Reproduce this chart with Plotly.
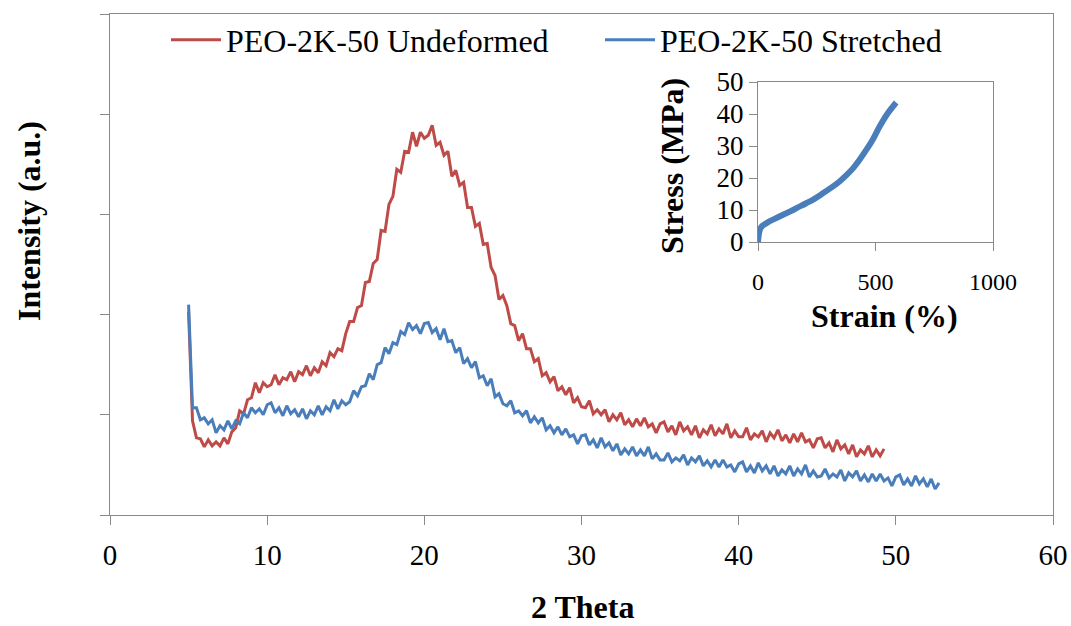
import numpy as np
import plotly.graph_objects as go

# ---------------- data ----------------
two_theta_start = 5.0
two_theta_step = 0.25

undeformed = [
    2.03, 0.94, 0.77, 0.76, 0.68, 0.75, 0.69, 0.73, 0.69, 0.77, 0.71, 0.83, 0.87, 1.04, 1.01, 1.15, 1.17, 1.32, 1.22, 1.32, 1.28,
    1.30, 1.40, 1.30, 1.37, 1.35, 1.43, 1.33, 1.43, 1.40, 1.49, 1.39, 1.47, 1.42, 1.53, 1.49, 1.62, 1.58, 1.66, 1.64, 1.81,
    1.93, 1.93, 2.07, 2.09, 2.32, 2.33, 2.51, 2.55, 2.84, 2.83, 3.10, 3.18, 3.45, 3.42, 3.63, 3.62, 3.82, 3.68, 3.82, 3.76,
    3.79, 3.89, 3.69, 3.72, 3.59, 3.63, 3.38, 3.44, 3.29, 3.32, 3.07, 3.07, 2.88, 2.91, 2.70, 2.71, 2.47, 2.39, 2.15, 2.19,
    2.09, 1.91, 1.89, 1.74, 1.81, 1.66, 1.66, 1.53, 1.56, 1.39, 1.42, 1.33, 1.38, 1.24, 1.28, 1.20, 1.27, 1.12, 1.17, 1.08,
    1.07, 1.14, 1.01, 1.05, 1.00, 1.05, 0.93, 1.00, 0.95, 1.02, 0.90, 0.95, 0.88, 0.96, 0.89, 0.97, 0.88, 0.91, 0.82, 0.91,
    0.93, 0.83, 0.89, 0.80, 0.93, 0.84, 0.88, 0.80, 0.89, 0.77, 0.85, 0.81, 0.90, 0.79, 0.86, 0.81, 0.91, 0.77, 0.84, 0.78,
    0.78, 0.87, 0.75, 0.81, 0.78, 0.84, 0.73, 0.82, 0.77, 0.85, 0.74, 0.80, 0.72, 0.81, 0.73, 0.82, 0.73, 0.75, 0.67, 0.76,
    0.77, 0.67, 0.72, 0.63, 0.75, 0.66, 0.70, 0.61, 0.70, 0.58, 0.65, 0.61, 0.69, 0.58, 0.65, 0.59, 0.66,
]

stretched = [
    2.10, 1.07, 1.07, 0.95, 0.97, 0.91, 0.95, 0.82, 0.89, 0.85, 0.94, 0.86, 0.94, 0.91, 1.02, 0.97, 1.07, 1.02, 1.06, 1.00, 1.10,
    1.12, 1.02, 1.07, 0.99, 1.09, 1.01, 1.05, 0.98, 1.06, 0.96, 1.04, 1.00, 1.09, 1.00, 1.08, 1.04, 1.15, 1.06, 1.14, 1.10,
    1.13, 1.24, 1.19, 1.28, 1.29, 1.41, 1.35, 1.50, 1.52, 1.67, 1.61, 1.72, 1.70, 1.83, 1.80, 1.92, 1.85, 1.89, 1.81, 1.91,
    1.92, 1.82, 1.86, 1.75, 1.86, 1.73, 1.74, 1.62, 1.67, 1.51, 1.56, 1.47, 1.53, 1.37, 1.39, 1.29, 1.36, 1.18, 1.21, 1.11,
    1.09, 1.14, 1.02, 1.04, 0.99, 1.04, 0.92, 0.98, 0.92, 0.97, 0.85, 0.89, 0.82, 0.88, 0.80, 0.86, 0.78, 0.80, 0.71, 0.79,
    0.80, 0.70, 0.75, 0.67, 0.77, 0.68, 0.72, 0.64, 0.71, 0.60, 0.66, 0.61, 0.68, 0.59, 0.65, 0.59, 0.68, 0.56, 0.61, 0.55,
    0.55, 0.62, 0.53, 0.57, 0.54, 0.60, 0.50, 0.57, 0.53, 0.59, 0.49, 0.54, 0.48, 0.55, 0.48, 0.55, 0.48, 0.50, 0.43, 0.51,
    0.53, 0.43, 0.49, 0.42, 0.52, 0.44, 0.49, 0.41, 0.49, 0.39, 0.45, 0.41, 0.49, 0.39, 0.46, 0.41, 0.50, 0.38, 0.44, 0.38,
    0.39, 0.46, 0.37, 0.41, 0.38, 0.45, 0.34, 0.42, 0.38, 0.44, 0.34, 0.40, 0.33, 0.41, 0.34, 0.41, 0.34, 0.37, 0.29, 0.38,
    0.40, 0.30, 0.36, 0.29, 0.39, 0.31, 0.36, 0.28, 0.36, 0.26, 0.32,
]

strain = [0, 2, 5, 10, 18, 30, 45, 64, 100, 135, 170, 205, 240, 276, 310, 347, 375, 404, 430, 460, 490, 517, 550, 588]
stress = [0, 1.5, 3.0, 4.2, 5.0, 5.6, 6.3, 7.0, 8.3, 9.5, 10.8, 12.1, 13.5, 15.2, 16.9, 18.9, 20.8, 23.0, 25.5, 28.7, 32.2, 36.0, 40.0, 43.6]

x_ticks = [0, 10, 20, 30, 40, 50, 60]
inset_x_ticks = [0, 500, 1000]
inset_y_ticks = [0, 10, 20, 30, 40, 50]

# ---------------- figure ----------------
FONT = "Liberation Serif"
AXIS_GRAY = "#898989"
RED = "#BE4B48"
BLUE = "#4A7EBB"

x_und = two_theta_start + two_theta_step * np.arange(len(undeformed))
x_str = two_theta_start + two_theta_step * np.arange(len(stretched))

fig = go.Figure()
fig.add_trace(go.Scatter(x=x_und, y=undeformed, mode="lines", name="PEO-2K-50 Undeformed",
                         line=dict(color=RED, width=3.0), xaxis="x", yaxis="y", legend="legend"))
fig.add_trace(go.Scatter(x=x_str, y=stretched, mode="lines", name="PEO-2K-50 Stretched",
                         line=dict(color=BLUE, width=3.0), xaxis="x", yaxis="y", legend="legend2"))
fig.add_trace(go.Scatter(x=strain, y=stress, mode="lines", showlegend=False,
                         line=dict(color=BLUE, width=6, shape="spline"), xaxis="x2", yaxis="y2"))

W, H = 1071, 626
L, R, T, B = 110, 18, 14, 111
pw, ph = W - L - R, H - T - B


def px_x(px):
    return (px - L) / pw


def px_y(py):
    return (H - B - py) / ph


axis_common = dict(showline=True, linecolor=AXIS_GRAY, linewidth=1.3, mirror=True,
                   ticks="outside", tickcolor=AXIS_GRAY, tickwidth=1.3,
                   showgrid=False, zeroline=False, automargin=False)

legend_common = dict(xanchor="left", yanchor="middle", font=dict(size=32, family=FONT, color="black"),
                     bgcolor="rgba(0,0,0,0)", itemwidth=50, borderwidth=0)

fig.update_layout(
    width=W, height=H,
    margin=dict(l=L, r=R, t=T, b=B, autoexpand=False),
    paper_bgcolor="white", plot_bgcolor="white",
    font=dict(family=FONT, color="black"),
    xaxis=dict(range=[0, 60], tickvals=x_ticks, ticklen=9, ticklabelstandoff=5,
               tickfont=dict(size=29, family=FONT), **axis_common),
    yaxis=dict(range=[0, 5], dtick=1, ticklen=9, showticklabels=False, **axis_common),
    xaxis2=dict(domain=[px_x(758), px_x(993)], anchor="y2", range=[0, 1000], tickvals=inset_x_ticks,
                ticklen=8, ticklabelstandoff=10, tickfont=dict(size=24, family=FONT), **axis_common),
    yaxis2=dict(domain=[px_y(242), px_y(82)], anchor="x2", range=[0, 50], tickvals=inset_y_ticks,
                ticklen=8, ticklabelstandoff=0, tickfont=dict(size=27, family=FONT), **axis_common),
    legend=dict(x=px_x(166), y=px_y(40), **legend_common),
    legend2=dict(x=px_x(600), y=px_y(40), **legend_common),
    showlegend=True,
)

annotations = [
    dict(text="<b>Intensity (a.u.)</b>", x=px_x(29), y=px_y(221), textangle=-90),
    dict(text="<b>2 Theta</b>", x=px_x(582), y=px_y(607)),
    dict(text="<b>Stress (MPa)</b>", x=px_x(672), y=px_y(166), textangle=-90),
    dict(text="<b>Strain (%)</b>", x=px_x(884), y=px_y(316)),
]
for a in annotations:
    fig.add_annotation(xref="paper", yref="paper", showarrow=False, xanchor="center", yanchor="middle",
                       font=dict(size=32, family=FONT, color="black"), **a)

fig.write_html("out.html")
